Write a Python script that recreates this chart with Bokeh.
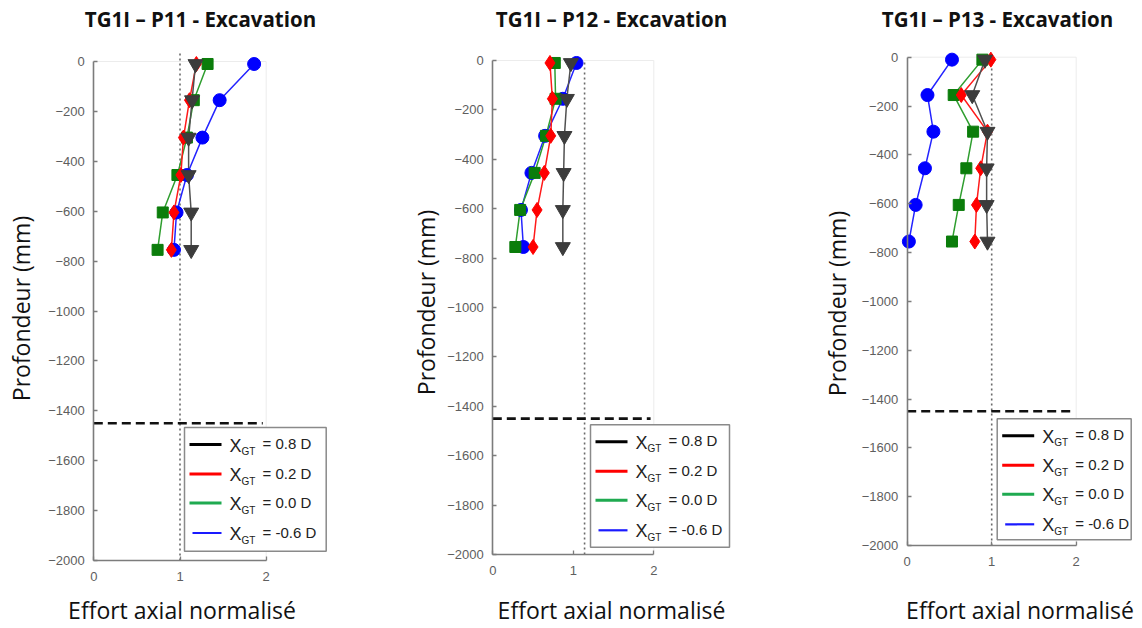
import numpy as np
from bokeh.plotting import figure
from bokeh.layouts import row
from bokeh.models import Range1d, FixedTicker
from bokeh.core.properties import value
from bokeh.embed import file_html
from bokeh.resources import INLINE

# ---------------- data ----------------
depth = [-10, -155, -305, -455, -605, -755]
panel_names = ["TG1I \u2013 P11 - Excavation", "TG1I \u2013 P12 - Excavation", "TG1I \u2013 P13 - Excavation"]
series_labels = ["= 0.8 D", "= 0.2 D", "= 0.0 D", "= -0.6 D"]
x_title = "Effort axial normalis\u00e9"
y_title = "Profondeur (mm)"

p11_x08 = [1.18, 1.14, 1.10, 1.10, 1.13, 1.13]
p11_x02 = [1.19, 1.11, 1.04, 1.01, 0.93, 0.90]
p11_x00 = [1.32, 1.16, 1.08, 0.97, 0.80, 0.74]
p11_xm06 = [1.86, 1.46, 1.26, 1.08, 0.96, 0.93]

p12_x08 = [0.97, 0.92, 0.89, 0.88, 0.87, 0.87]
p12_x02 = [0.71, 0.74, 0.72, 0.64, 0.55, 0.50]
p12_x00 = [0.77, 0.78, 0.66, 0.52, 0.34, 0.28]
p12_xm06 = [1.04, 0.87, 0.65, 0.48, 0.35, 0.38]

p13_x08 = [0.92, 0.77, 0.95, 0.94, 0.94, 0.95]
p13_x02 = [0.99, 0.64, 0.95, 0.87, 0.82, 0.80]
p13_x00 = [0.89, 0.55, 0.78, 0.70, 0.61, 0.53]
p13_xm06 = [0.53, 0.24, 0.31, 0.21, 0.10, 0.02]

ref_effort = [1.0, 1.14, 1.0]          # vertical dotted reference line
excavation_depth = -1450               # horizontal dashed line
x_ticks = [0, 1, 2]
y_ticks = list(range(-2000, 1, 200))

panel_data = [
    [p11_x08, p11_x02, p11_x00, p11_xm06],
    [p12_x08, p12_x02, p12_x00, p12_xm06],
    [p13_x08, p13_x02, p13_x00, p13_xm06],
]

# ---------------- styles / layout ----------------
line_colors = ["#505050", "#ff1a1a", "#2f9e2f", "#2424ff"]
marker_colors = ["#3c3c3c", "#ff0000", "#0b7d0b", "#0000ff"]
markers = ["inverted_triangle", "diamond", "square", "circle"]
marker_sizes = [15, 15, 11, 13]
legend_colors = ["#000000", "#ff0000", "#1faa50", "#1a1aff"]
draw_order = [3, 2, 1, 0]

FONT_T = "Open Sans"
FONT_A = "Liberation Sans"
H = 628

# per panel (pixel geometry of the picture): figure span, pixel of x=0, px per unit,
# pixel of depth 0, px per mm, label/legend placement
cfgs = [
    dict(fl=0, fr=388, x0=93.3, sx=86.2, y0=61.0, sy=0.2495, dtop=35,
         title_x=200, xl_x=181.5, yl_x=20, yl_y=308,
         leg=(184, 427, 325.7, 550.7)),
    dict(fl=388, fr=800, x0=492.3, sx=80.5, y0=60.0, sy=0.247, dtop=0,
         title_x=611, xl_x=611, yl_x=425, yl_y=302,
         leg=(590, 424.3, 729, 546.7)),
    dict(fl=800, fr=1140, x0=906.7, sx=84.5, y0=56.7, sy=0.24415, dtop=5,
         title_x=997, xl_x=1019.5, yl_x=836, yl_y=303,
         leg=(996.7, 418.3, 1130.7, 539.3)),
]


def make_panel(i):
    c = cfgs[i]

    def xd(px):
        return (px - c["x0"]) / c["sx"]

    def yd(py):
        return (c["y0"] - py) / c["sy"]

    p = figure(width=c["fr"] - c["fl"], height=H,
               x_range=Range1d(xd(c["fl"]), xd(c["fr"])), y_range=Range1d(yd(H), yd(0)),
               output_backend="svg", toolbar_location=None,
               min_border=0)
    p.outline_line_color = None
    p.grid.visible = False
    p.background_fill_color = "white"
    p.border_fill_color = "white"

    for ax in (p.xaxis[0], p.yaxis[0]):
        ax.axis_line_color = "#7c7c7c"
        ax.axis_line_width = 1.6
        ax.major_tick_line_color = "#7c7c7c"
        ax.major_tick_line_width = 1.3
        ax.major_tick_in = 4
        ax.major_tick_out = 0
        ax.minor_tick_line_color = None
        ax.major_label_text_font = FONT_A
        ax.major_label_text_font_size = "13px"
        ax.major_label_text_color = "#5e5e5e"
    p.xaxis[0].ticker = FixedTicker(ticks=x_ticks)
    p.yaxis[0].ticker = FixedTicker(ticks=y_ticks)
    p.xaxis[0].bounds = (0, 2)
    p.yaxis[0].bounds = (-2000, 0)
    p.xaxis[0].fixed_location = -2000
    p.yaxis[0].fixed_location = 0
    p.xaxis[0].major_label_standoff = 11
    p.yaxis[0].major_label_standoff = 9

    # faint top / right box
    p.line([0, 2], [0, 0], line_color="#ececec", line_width=1)
    p.line([2, 2], [-2000, 0], line_color="#ececec", line_width=1)

    # reference lines
    p.line([ref_effort[i], ref_effort[i]], [-2000, c["dtop"]], line_color="#6a6a6a",
           line_width=1.6, line_dash="2 3")
    p.line([0, 1.96], [excavation_depth, excavation_depth], line_color="#111111",
           line_width=2.6, line_dash="9 5")

    series = panel_data[i]
    for k in draw_order:
        p.line(series[k], depth, line_color=line_colors[k], line_width=1.5)
    for k in draw_order:
        p.scatter(series[k], depth, marker=markers[k], size=marker_sizes[k],
                  fill_color=marker_colors[k], line_color=marker_colors[k])

    # legend (drawn manually for subscripts)
    L, T, R, B = c["leg"]
    p.quad(left=[xd(L)], right=[xd(R)], top=[yd(T)], bottom=[yd(B)],
           fill_color="white", line_color="#8a8a8a", line_width=1.5)
    row_off = [17, 46.5, 75.5, 105.5]
    for k in range(4):
        ry = T + row_off[k]
        x_start = L + (8 if k == 3 else 5)
        p.line([xd(x_start), xd(L + 37)], [yd(ry), yd(ry)],
               line_color=legend_colors[k], line_width=3 if k < 3 else 2.2)
        p.text([xd(L + 45)], [yd(ry + 1)], text=["X"], text_font=value(FONT_A),
               text_font_size="18px", text_color="#222222", text_baseline="alphabetic")
        p.text([xd(L + 57)], [yd(ry + 7)], text=["GT"], text_font=value(FONT_A),
               text_font_size="10px", text_color="#222222", text_baseline="alphabetic")
        p.text([xd(L + 78)], [yd(ry - 1)], text=[series_labels[k]], text_font=value(FONT_A),
               text_font_size="15px", text_color="#222222", text_baseline="alphabetic")

    # titles and axis labels
    p.text([xd(c["title_x"])], [yd(18)], text=[panel_names[i]],
           text_font=value(FONT_T), text_font_style="bold", text_font_size="20.5px",
           text_color="#111111", text_align="center", text_baseline="alphabetic")
    p.text([xd(c["xl_x"])], [yd(609)], text=[x_title],
           text_font=value(FONT_T), text_font_size="23px", text_color="#111111",
           text_align="center", text_baseline="alphabetic")
    p.text([xd(c["yl_x"])], [yd(c["yl_y"])], text=[y_title],
           text_font=value(FONT_T), text_font_size="23px", text_color="#111111",
           text_align="center", text_baseline="middle", angle=np.pi / 2)
    return p


plots = [make_panel(i) for i in range(3)]
layout = row(*plots, spacing=0)
open("out.html", "w").write(file_html(layout, INLINE))
